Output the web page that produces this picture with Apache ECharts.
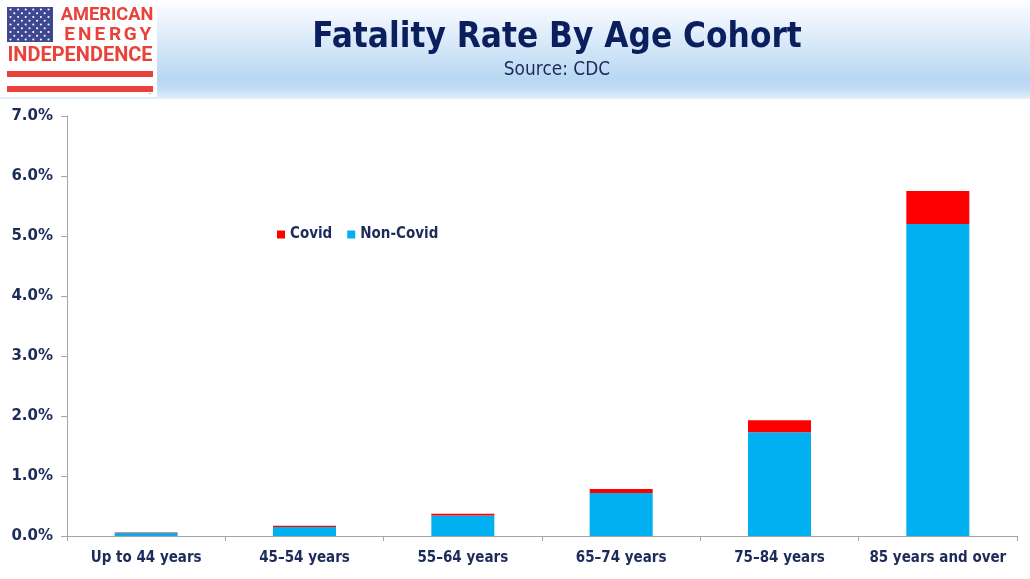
<!DOCTYPE html>
<html>
<head>
<meta charset="utf-8">
<title>Fatality Rate By Age Cohort</title>
<script src="https://cdn.jsdelivr.net/npm/echarts@6/dist/echarts.min.js"></script>
<style>
  html, body { margin: 0; padding: 0; background: #fff; }
  #chart { width: 1030px; height: 579px; }
</style>
</head>
<body>
<div id="chart"></div>
<script>
// data (percent)
var ageGroups = ['Up to 44 years', '45\u201354 years', '55\u201364 years', '65\u201374 years', '75\u201384 years', '85 years and over'];
var nonCovid = [0.05, 0.15, 0.34, 0.715, 1.73, 5.20];
var covid = [0.01, 0.02, 0.03, 0.07, 0.20, 0.55];
var legendNames = ['Covid', 'Non-Covid'];

var navy = '#0b1f5e';
var labelInk = '#1c2b5a';
var axisGrey = '#a6a6a6';
var logoRed = '#e8423b';
var font = 'DejaVu Sans';
var narrow = 'DejaVu Sans Condensed';

// --- header / logo decoration ---
var graphics = [];
graphics.push({
  type: 'rect', left: 0, top: 0, z: -10,
  shape: { width: 1030, height: 99 },
  style: {
    fill: new echarts.graphic.LinearGradient(0, 0, 0, 1, [
      { offset: 0, color: '#ffffff' },
      { offset: 0.12, color: '#f3f8fe' },
      { offset: 0.8, color: '#b9d7f3' },
      { offset: 0.9, color: '#c3ddf4' },
      { offset: 1, color: '#e4f0fb' }
    ])
  }
});
graphics.push({ type: 'rect', left: 0, top: 0, shape: { width: 157, height: 97 }, style: { fill: '#ffffff' } });
graphics.push({ type: 'rect', left: 7, top: 7, shape: { width: 46, height: 35 }, style: { fill: '#3d4890' } });
for (var r = 0; r < 9; r++) {
  var n = r % 2 === 0 ? 6 : 5;
  for (var c = 0; c < n; c++) {
    graphics.push({
      type: 'circle',
      shape: { cx: 10.5 + c * 7.6 + (r % 2) * 3.8, cy: 9.5 + r * 3.75, r: 1.05 },
      style: { fill: '#ffffff' }
    });
  }
}
graphics.push({
  type: 'text', x: 107, y: 15, scaleX: 0.96,
  style: { text: 'AMERICAN', x: 0, y: 0, align: 'center', verticalAlign: 'middle', fill: logoRed, font: 'bold 19px Roboto' }
});
var energy = 'ENERGY';
for (var k = 0; k < energy.length; k++) {
  graphics.push({
    type: 'text', x: 69.5 + k * 15.2, y: 35,
    style: { text: energy[k], x: 0, y: 0, align: 'center', verticalAlign: 'middle', fill: logoRed, font: 'bold 19px Roboto' }
  });
}
graphics.push({
  type: 'text', x: 80, y: 55.5,
  style: { text: 'INDEPENDENCE', x: 0, y: 0, align: 'center', verticalAlign: 'middle', fill: logoRed, font: 'bold 20px Roboto' }
});
graphics.push({ type: 'rect', left: 7, top: 71, shape: { width: 146, height: 6 }, style: { fill: logoRed } });
graphics.push({ type: 'rect', left: 7, top: 86, shape: { width: 146, height: 6 }, style: { fill: logoRed } });
graphics.push({
  type: 'text', x: 150, y: 95,
  style: { text: '\u2122', x: 0, y: 0, align: 'center', verticalAlign: 'middle', fill: '#888', font: '4px ' + font }
});

// title + source
graphics.push({
  type: 'text', x: 557, y: 38, scaleX: 0.87,
  style: { text: 'Fatality Rate By Age Cohort', x: 0, y: 0, align: 'center', verticalAlign: 'middle', fill: navy, font: 'bold 36px "' + font + '"' }
});
graphics.push({
  type: 'text', x: 557, y: 70, scaleX: 0.85,
  style: { text: 'Source: CDC', x: 0, y: 0, align: 'center', verticalAlign: 'middle', fill: '#1a2a5c', font: '20px "' + font + '"' }
});

var chart = echarts.init(document.getElementById('chart'), null, { renderer: 'canvas' });
chart.setOption({
  animation: false,
  backgroundColor: '#ffffff',
  graphic: graphics,
  legend: {
    data: legendNames,
    left: 272,
    top: 222,
    icon: 'rect',
    itemWidth: 8,
    itemHeight: 8,
    itemGap: 15,
    textStyle: { color: labelInk, fontFamily: narrow, fontWeight: 'bold', fontSize: 15 }
  },
  grid: { left: 67, right: 13, top: 116, bottom: 43 },
  xAxis: {
    type: 'category',
    data: ageGroups,
    axisLine: { lineStyle: { color: axisGrey, width: 1 } },
    axisTick: { show: true, length: 5, lineStyle: { color: axisGrey } },
    axisLabel: { interval: 0, color: labelInk, fontFamily: narrow, fontWeight: 'bold', fontSize: 15, margin: 15 }
  },
  yAxis: {
    type: 'value',
    min: 0,
    max: 7,
    interval: 1,
    axisLine: { show: true, lineStyle: { color: axisGrey, width: 1 } },
    axisTick: { show: true, length: 6, lineStyle: { color: axisGrey } },
    splitLine: { show: false },
    axisLabel: {
      color: labelInk, fontFamily: font, fontWeight: 'bold', fontSize: 15, margin: 14,
      formatter: function (v) { return v.toFixed(1) + '%'; }
    }
  },
  series: [
    {
      name: 'Non-Covid',
      type: 'bar',
      stack: 'total',
      data: nonCovid,
      barWidth: 63,
      itemStyle: { color: '#00b0f0' }
    },
    {
      name: 'Covid',
      type: 'bar',
      stack: 'total',
      data: covid,
      barWidth: 63,
      itemStyle: { color: '#ff0000' }
    }
  ]
});
</script>
</body>
</html>
